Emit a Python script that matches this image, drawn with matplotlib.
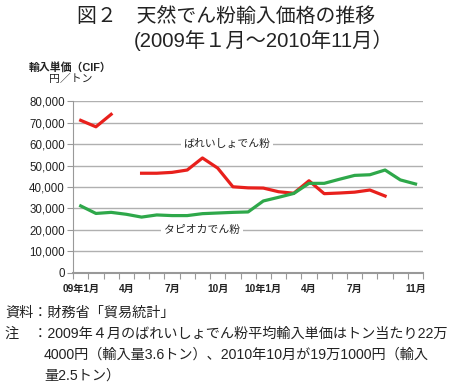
import numpy as np
import matplotlib.pyplot as plt

plt.rcParams['font.family'] = ['Liberation Sans', 'Noto Sans CJK JP']

# 2009年1月 ～ 2010年11月 (23 months), NaN = off scale / no data
months = list(range(23))
potato = [71000, 68000, 73800, np.nan, 46400, 46400, 46800, 47900, 53500, 48800, 40100, 39600,
          39500, 37800, 37100, 42900, 36900, 37200, 37600, 38600, 35800, np.nan, np.nan]
tapioca = [31200, 27700, 28200, 27300, 26000, 27000, 26700, 26700, 27600, 27900, 28200, 28400,
           33500, 35200, 37000, 41700, 41700, 43600, 45400, 45700, 47900, 43300, 41400]
xlabel_pos = [0, 3, 6, 9, 12, 15, 18, 22]
xlabels = ['09年1月', '4月', '7月', '10月', '10年1月', '4月', '7月', '11月']

fig = plt.figure(figsize=(4.54, 3.87), dpi=100)
ax = fig.add_axes([0.161, 0.2946, 0.771, 0.4444])

ax.plot(months, potato, color='#e8201c', lw=2.3, zorder=3)
ax.plot(months, tapioca, color='#2ea84a', lw=2.3, zorder=3)

ax.set_ylim(0, 80000)
ax.set_xlim(-0.5, 22.5)
ax.set_yticks(range(0, 80001, 10000))
ax.set_yticklabels([f'{v:,}' for v in range(0, 80001, 10000)], fontsize=8.3, color='#222222')
ax.yaxis.grid(True, color='#b0b0b0', lw=1)
ax.set_axisbelow(True)

ax.set_xticks(np.arange(-0.5, 23, 1))
ax.set_xticklabels([])
ax.set_xticks(xlabel_pos, minor=True)
ax.set_xticklabels(xlabels, minor=True, fontsize=7.3, fontweight='bold', color='#222222')
ax.tick_params(axis='x', which='major', length=4, color='#999999', direction='out')
ax.tick_params(axis='x', which='minor', length=0, pad=8)
ax.tick_params(axis='y', length=4, color='#999999', pad=2)

for s in ['top', 'right']:
    ax.spines[s].set_visible(False)
ax.spines['left'].set_color('#999999')
ax.spines['bottom'].set_color('#999999')
ax.spines['bottom'].set_linewidth(1.5)

ax.text(6.75, 60000, 'ばれいしょでん粉', fontsize=7.8, va='center', ha='left', color='#222222',
        bbox=dict(facecolor='white', edgecolor='none', pad=2), zorder=2)
ax.text(5.45, 20000, 'タピオカでん粉', fontsize=7.8, va='center', ha='left', color='#222222',
        bbox=dict(facecolor='white', edgecolor='none', pad=2), zorder=2)

fig.text(0.17, 0.955, '図２　天然でん粉輸入価格の推移', fontsize=14.3, ha='left', va='center', color='#222222')
fig.text(0.295, 0.895, '(2009年１月～2010年11月）', fontsize=14.6, ha='left', va='center', color='#222222')
fig.text(0.155, 0.826, '輸入単価（CIF）', fontsize=7.8, ha='center', va='center', fontweight='bold', color='#222222')
fig.text(0.155, 0.795, '円／トン', fontsize=7.8, ha='center', va='center', color='#222222')

foot = 10.2
fig.text(0.011, 0.193, '資料：財務省「貿易統計」', fontsize=foot, ha='left', va='center', color='#222222')
fig.text(0.011, 0.137, '注　：2009年４月のばれいしょでん粉平均輸入単価はトン当たり22万', fontsize=foot, ha='left', va='center', color='#222222')
fig.text(0.097, 0.083, '4000円（輸入量3.6トン）、2010年10月が19万1000円（輸入', fontsize=foot, ha='left', va='center', color='#222222')
fig.text(0.097, 0.029, '量2.5トン）', fontsize=foot, ha='left', va='center', color='#222222')

fig.savefig('out.png', dpi=100)
